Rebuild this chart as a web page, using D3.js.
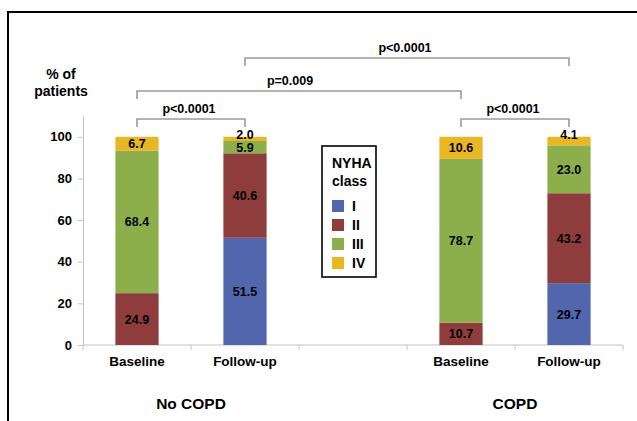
<!DOCTYPE html>
<html><head><meta charset="utf-8">
<script src="https://cdn.jsdelivr.net/npm/d3@7"></script>
<style>
body{margin:0;background:#fff;}
svg text{font-family:"Liberation Sans",Arial,sans-serif;font-weight:bold;fill:#000;}
</style></head>
<body>
<svg id="chart" width="637" height="421"></svg>
<script>
// ---- data ----
const slots = ["NoCOPD-Baseline","NoCOPD-Follow-up","gap","COPD-Baseline","COPD-Follow-up"];
const barSlots = ["NoCOPD-Baseline","NoCOPD-Follow-up","COPD-Baseline","COPD-Follow-up"];
const barLabels = ["Baseline","Follow-up","Baseline","Follow-up"];
const classes = ["I","II","III","IV"];
const classI   = [0, 51.5, 0, 29.7];
const classII  = [24.9, 40.6, 10.7, 43.2];
const classIII = [68.4, 5.9, 78.7, 23.0];
const classIV  = [6.7, 2.0, 10.6, 4.1];
const colors = ["#5166AD","#8E3D3C","#8CAF4C","#E8B723"];
const groups = ["No COPD","COPD"];
const groupSpans = [["NoCOPD-Baseline","NoCOPD-Follow-up"],["COPD-Baseline","COPD-Follow-up"]];
const yTicks = [0,20,40,60,80,100];
const pvalues = [
  {from:"NoCOPD-Baseline", to:"NoCOPD-Follow-up", label:"p<0.0001", level:0},
  {from:"COPD-Baseline", to:"COPD-Follow-up", label:"p<0.0001", level:0},
  {from:"NoCOPD-Baseline", to:"COPD-Baseline", label:"p=0.009", level:1},
  {from:"NoCOPD-Follow-up", to:"COPD-Follow-up", label:"p<0.0001", level:2}
];

const svg = d3.select("#chart");
// frame
svg.append("rect").attr("x",8).attr("y",12).attr("width",700).attr("height",500)
  .attr("fill","none").attr("stroke","#000").attr("stroke-width",2);

const x = d3.scaleBand().domain(slots).range([83,623]).paddingInner(0.6).paddingOuter(0.3);
const y = d3.scaleLinear().domain([0,110]).range([345,116]);
const axisColor = "#c4c4c4";

// y axis
const ya = svg.append("g").attr("transform","translate(83,0)")
  .call(d3.axisLeft(y).tickValues(yTicks).tickSize(5).tickSizeOuter(0).tickPadding(6));
ya.select(".domain").attr("stroke",axisColor);
ya.selectAll(".tick line").attr("stroke",axisColor);
ya.selectAll(".tick text").style("font-size","13px").style("font-family","Liberation Sans, Arial").style("font-weight","bold").attr("fill","#000");

// x axis line and slot ticks
svg.append("line").attr("x1",83).attr("x2",623).attr("y1",y(0)).attr("y2",y(0)).attr("stroke",axisColor).attr("stroke-width",1.2);
const bounds = slots.map(s=>x(s)-x.step()*x.paddingInner()/2).concat([623]);
svg.selectAll(".xt").data(bounds).join("line")
  .attr("x1",d=>d).attr("x2",d=>d).attr("y1",y(0)).attr("y2",y(0)+5).attr("stroke",axisColor);

// stacked bars
const rows = barSlots.map((s,i)=>({slot:s, I:classI[i], II:classII[i], III:classIII[i], IV:classIV[i]}));
const stack = d3.stack().keys(classes)(rows);
stack.forEach((layer,li)=>{
  svg.append("g").selectAll("rect").data(layer).join("rect")
    .attr("x",d=>x(d.data.slot)).attr("width",x.bandwidth())
    .attr("y",d=>y(d[1])).attr("height",d=>y(d[0])-y(d[1]))
    .attr("fill",colors[li]);
});
stack.forEach((layer,li)=>{
  svg.append("g").selectAll("text").data(layer.filter(d=>d[1]-d[0]>0)).join("text")
    .attr("x",d=>x(d.data.slot)+x.bandwidth()/2)
    .attr("y",d=>{
      const v=d[1]-d[0];
      if(v<5 && d[1]>=99.9) return y(d[1])+2;
      return y((d[0]+d[1])/2)+4.5;
    })
    .attr("text-anchor","middle").style("font-size","12.5px")
    .text(d=>(d[1]-d[0]).toFixed(1));
});

// x labels
svg.selectAll(".xl").data(barSlots).join("text")
  .attr("x",d=>x(d)+x.bandwidth()/2).attr("y",366).attr("text-anchor","middle")
  .style("font-size","13.5px").text((d,i)=>barLabels[i]);
svg.selectAll(".gl").data(groups).join("text")
  .attr("x",(d,i)=>(x(groupSpans[i][0])+x(groupSpans[i][1])+x.bandwidth())/2).attr("y",409)
  .attr("text-anchor","middle").style("font-size","15.5px").text(d=>d);

// y title
svg.append("text").attr("x",61).attr("y",79).attr("text-anchor","middle").style("font-size","14px").text("% of");
svg.append("text").attr("x",61).attr("y",96).attr("text-anchor","middle").style("font-size","14px").text("patients");

// brackets
const levelY = [119, 91, 58];
pvalues.forEach(p=>{
  const x1 = x(p.from)+x.bandwidth()/2, x2 = x(p.to)+x.bandwidth()/2, yy = levelY[p.level];
  svg.append("path").attr("d",`M${x1},${yy+8}V${yy}H${x2}V${yy+8}`)
    .attr("fill","none").attr("stroke","#9a9a9a").attr("stroke-width",1.6);
  const cx = p.level===1 ? (x1+x2)/2 - 9 : (x1+x2)/2 - 2;
  svg.append("text").attr("x",cx).attr("y",yy-6).attr("text-anchor","middle")
    .style("font-size","12.5px").text(p.label);
});

// legend
const lg = svg.append("g");
lg.append("rect").attr("x",322).attr("y",146).attr("width",54).attr("height",131)
  .attr("fill","#fff").attr("stroke","#000").attr("stroke-width",1.6);
lg.append("text").attr("x",332).attr("y",168).style("font-size","14px").text("NYHA");
lg.append("text").attr("x",332).attr("y",186).style("font-size","14px").text("class");
classes.forEach((c,i)=>{
  const cy = 206 + i*19;
  lg.append("rect").attr("x",332).attr("y",cy-6).attr("width",12).attr("height",12).attr("fill",colors[i]);
  lg.append("text").attr("x",352).attr("y",cy+5).style("font-size","14px").text(c);
});
</script>
</body></html>
